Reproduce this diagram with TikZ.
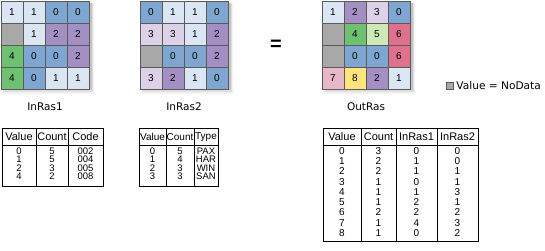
\documentclass[tikz,border=0pt]{standalone}
\usepackage{fontspec}
\setmainfont{Liberation Sans}
\newfontfamily\labelfont{DejaVu Sans}
\usetikzlibrary{positioning}
\definecolor{c0}{HTML}{7FA6D1}
\definecolor{c1}{HTML}{DAE6F3}
\definecolor{c2}{HTML}{A48FC4}
\definecolor{c3}{HTML}{DDD1E8}
\definecolor{c4}{HTML}{6DC170}
\definecolor{c5}{HTML}{CFE8B8}
\definecolor{c6}{HTML}{E0718C}
\definecolor{c7}{HTML}{E8B8C8}
\definecolor{c8}{HTML}{FDE57C}
\definecolor{cN}{HTML}{A8A8A8}
\definecolor{gridline}{HTML}{5A5A5A}
\newcommand\cellval[1]{\if N#1\else#1\fi}
\tikzset{
  cell/.style={draw=gridline,line width=.8pt,minimum size=22pt,inner sep=0pt,
    font=\fontsize{10}{10}\selectfont},
  rascap/.style={font=\labelfont\fontsize{10.5}{10.5}\selectfont,inner sep=0pt},
  tab/.style={draw=black,line width=.8pt},
  hdr/.style={inner sep=0pt,font=\fontsize{11}{11}\selectfont},
  colbody/.style={inner sep=0pt,align=center,anchor=north}
}

\begin{document}
\begin{tikzpicture}[x=1pt,y=-1pt]
  \useasboundingbox (0,0) rectangle (545,251);

  % soft shadows under the three rasters
  \foreach \gx in {1,140,322} {
    \fill[black,opacity=.05] (\gx+2,3) rectangle (\gx+93,94);
    \fill[black,opacity=.08] (\gx+2,3) rectangle (\gx+92,92);
    \fill[black,opacity=.12] (\gx+2,3) rectangle (\gx+90.5,90.5);
  }

  % InRas1
  \foreach \v [count=\i from 0] in {1,1,0,0,N,1,2,2,4,0,0,2,4,0,1,1}
    \node[cell,fill=c\v] (a\i) at ({12+22*mod(\i,4)},{12+22*div(\i,4)}) {\cellval{\v}};
  \node[rascap] (lab1) at (45,107) {InRas1};

  % InRas2
  \foreach \v [count=\i from 0] in {0,1,1,0,3,3,1,2,N,0,0,2,3,2,1,0}
    \node[cell,fill=c\v] (b\i) at ({151+22*mod(\i,4)},{12+22*div(\i,4)}) {\cellval{\v}};
  \node[rascap] (lab2) at (184,107) {InRas2};

  \node[font=\bfseries\fontsize{20}{20}\selectfont,inner sep=0pt] (eq) at (276,45) {=};

  % OutRas
  \foreach \v [count=\i from 0] in {1,2,3,0,N,4,5,6,N,0,0,6,7,8,2,1}
    \node[cell,fill=c\v] (o\i) at ({333+22*mod(\i,4)},{12+22*div(\i,4)}) {\cellval{\v}};
  \node[rascap] (lab3) at (366,107) {OutRas};

  % legend
  \node[draw=gridline,fill=cN,minimum size=7pt,inner sep=0pt] (nd) at (449.5,86) {};
  \node[right=3pt of nd,inner sep=0pt,font=\labelfont\fontsize{10.6}{10.6}\selectfont]
    (ndtxt) {Value = NoData};

  % table of InRas1
  \draw[tab] (2,128) rectangle (103,186) (2,145) -- (103,145)
    (36,128) -- (36,186) (68,128) -- (68,186);
  \node[hdr] (t1v) at (19,137) {Value};
  \node[hdr] (t1c) at (52,137) {Count};
  \node[hdr] (t1k) at (85.5,137) {Code};
  \begin{scope}[every node/.append style={font=\fontsize{9.5}{8.5}\selectfont}]
    \node[colbody] (t1vb) at (19,147.5) {0\\1\\2\\4};
    \node[colbody] (t1cb) at (52,147.5) {5\\5\\3\\2};
    \node[colbody] (t1kb) at (85.5,147.5) {002\\004\\005\\008};
  \end{scope}

  % table of InRas2
  \draw[tab] (139,128) rectangle (218,186) (139,145) -- (218,145)
    (166,128) -- (166,186) (194,128) -- (194,186);
  \begin{scope}[every node/.append style={font=\fontsize{10}{8.5}\selectfont}]
    \node[hdr,font=\fontsize{10}{10}\selectfont] (t2v) at (152.5,137) {Value};
    \node[hdr,font=\fontsize{10}{10}\selectfont] (t2c) at (180,137) {Count};
    \node[hdr,font=\fontsize{10}{10}\selectfont] (t2t) at (206,137) {Type};
    \node[colbody,font=\fontsize{9.5}{8.5}\selectfont] (t2vb) at (152.5,147.5) {0\\1\\2\\3};
    \node[colbody,font=\fontsize{9.5}{8.5}\selectfont] (t2cb) at (180,147.5) {5\\4\\3\\3};
    \node[colbody,font=\fontsize{9.5}{8.5}\selectfont] (t2tb) at (206,147.5) {PAX\\HAR\\WIN\\SAN};
  \end{scope}

  % table of OutRas
  \draw[tab] (323,128) rectangle (478,241) (323,145) -- (478,145)
    (361,128) -- (361,241) (396,128) -- (396,241) (437,128) -- (437,241);
  \node[hdr] (t3v) at (342,137) {Value};
  \node[hdr] (t3c) at (378.5,137) {Count};
  \node[hdr] (t3a) at (416.5,137) {InRas1};
  \node[hdr] (t3b) at (457.5,137) {InRas2};
  \begin{scope}[every node/.append style={font=\fontsize{10}{10.3}\selectfont}]
    \node[colbody] (t3vb) at (342,147) {0\\1\\2\\3\\4\\5\\6\\7\\8};
    \node[colbody] (t3cb) at (378.5,147) {3\\2\\2\\1\\1\\1\\2\\1\\1};
    \node[colbody] (t3ab) at (416.5,147) {0\\1\\1\\0\\1\\2\\2\\4\\0};
    \node[colbody] (t3bb) at (457.5,147) {0\\0\\1\\1\\3\\1\\2\\3\\2};
  \end{scope}
\end{tikzpicture}
\end{document}
